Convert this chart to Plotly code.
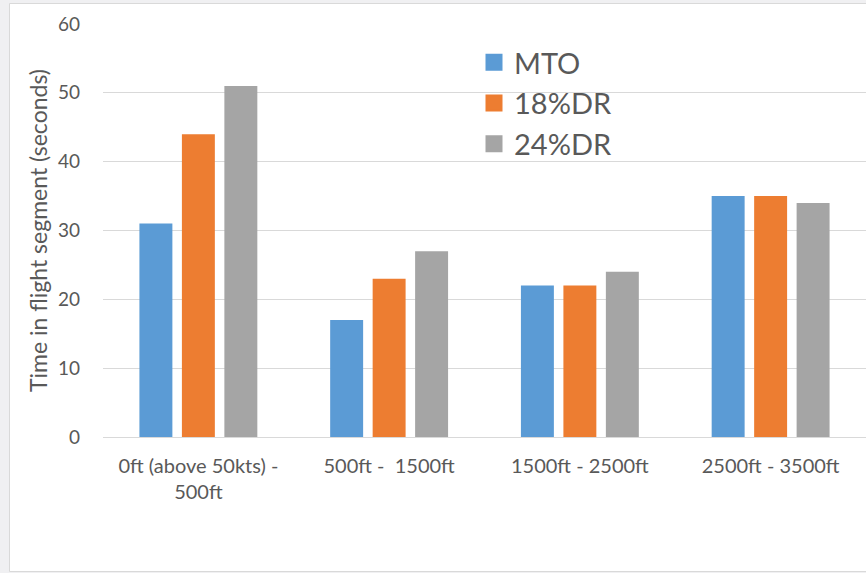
import plotly.graph_objects as go

categories = ["0ft (above 50kts) -<br>500ft", "500ft -  1500ft", "1500ft - 2500ft", "2500ft - 3500ft"]
series_names = ["MTO", "18%DR", "24%DR"]
mto = [31, 17, 22, 35]
dr18 = [44, 23, 22, 35]
dr24 = [51, 27, 24, 34]
colors = ["#5b9bd5", "#ed7d31", "#a5a5a5"]
y_ticks = [0, 10, 20, 30, 40, 50, 60]

FONT = "Lato, Calibri, Carlito, sans-serif"
TXT = "#595959"

fig = go.Figure()
for name, vals, col in zip(series_names, [mto, dr18, dr24], colors):
    fig.add_trace(go.Bar(x=categories, y=vals, name=name, marker=dict(color=col, line=dict(width=0)),
                         showlegend=False))
for i, (name, col) in enumerate(zip(series_names, colors)):
    fig.add_trace(go.Scatter(x=[None], y=[None], mode="markers", name=name, legendgroup=f"g{i}",
                             marker=dict(symbol="square", size=15, color=col, line=dict(color=col, width=2))))

L, T, B = 103, 24, 136
W, H = 866, 573
pw = W - L
ph = H - T - B

def px2x(px):
    return (px - L) / pw

def py2y(py):
    return (H - B - py) / ph

fig.add_shape(type="rect", xref="paper", yref="paper", layer="below",
              x0=px2x(9.5), x1=px2x(880), y0=py2y(3.5), y1=py2y(571.5),
              fillcolor="white", line=dict(color="#d9d9d9", width=1))

fig.update_layout(
    width=W, height=H,
    margin=dict(l=L, r=0, t=T, b=B, pad=0),
    paper_bgcolor="#f0f0f2",
    plot_bgcolor="rgba(0,0,0,0)",
    barmode="group",
    bargap=0.332,
    bargroupgap=0.224,
    font=dict(family=FONT, color=TXT, size=18),
    legend=dict(x=px2x(474), y=py2y(37), xanchor="left", yanchor="top",
                font=dict(size=29, color=TXT), bgcolor="rgba(0,0,0,0)",
                tracegroupgap=0, itemwidth=30),
    xaxis=dict(showgrid=False, showline=False, ticks="", tickfont=dict(size=20, color=TXT),
               ticklabelstandoff=15),
    yaxis=dict(range=[0, 60], tickvals=y_ticks, showgrid=True, gridcolor="#d9d9d9", gridwidth=1,
               zeroline=True, zerolinecolor="#d9d9d9", zerolinewidth=1, showline=False,
               tickfont=dict(size=19, color=TXT), ticks="", ticklabelstandoff=22,
               title=dict(text="Time in flight segment (seconds)", font=dict(size=23, color=TXT), standoff=3)),
)

fig.write_html("out.html")
